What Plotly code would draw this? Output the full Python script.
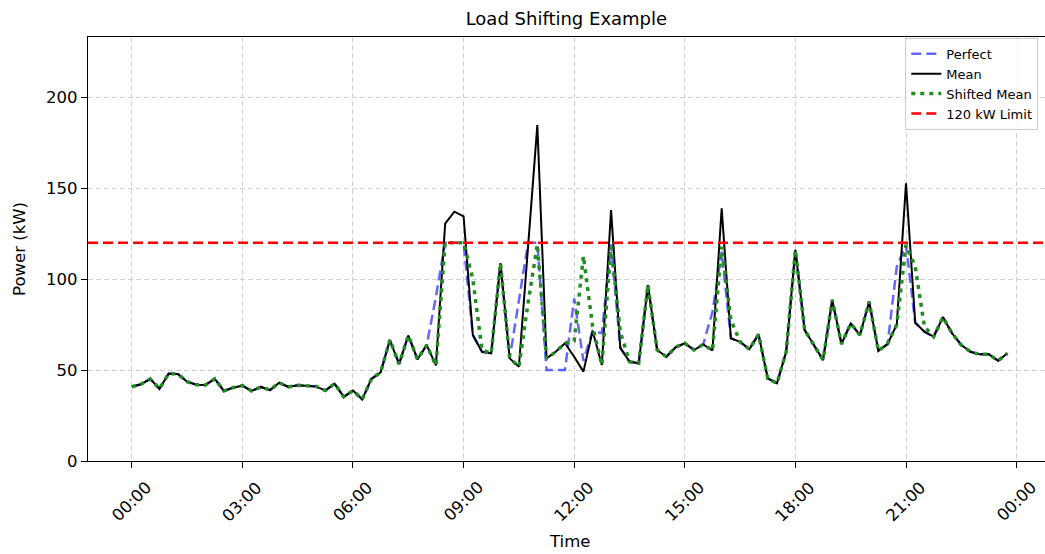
import pandas as pd
import plotly.graph_objects as go

# ---- data -------------------------------------------------------------
times = pd.date_range("2024-01-01 00:00", periods=96, freq="15min")

mean_kw = [
    40.8, 42.2, 45.1, 39.7, 48.0, 47.8, 43.6, 41.9, 41.8, 45.2, 38.5, 40.3,
    41.4, 38.5, 40.7, 39.0, 43.0, 40.7, 41.6, 41.4, 41.0, 38.7, 42.5, 35.3,
    38.7, 33.9, 45.1, 48.7, 66.5, 53.3, 69.0, 55.9, 63.7, 52.5, 130.4, 137.0,
    134.4, 69.2, 60.0, 59.2, 108.8, 56.4, 51.8, 118.2, 184.6, 56.4, 60.0, 64.7,
    57.3, 49.1, 71.5, 52.7, 137.9, 62.2, 54.6, 53.7, 96.7, 61.0, 57.3, 62.5,
    64.7, 61.0, 64.1, 60.7, 138.8, 67.4, 65.5, 61.4, 69.6, 45.4, 42.7, 60.0,
    116.0, 72.0, 63.7, 55.5, 88.5, 64.3, 75.6, 69.2, 87.5, 60.6, 64.3, 75.0,
    152.6, 76.0, 71.0, 68.3, 79.0, 70.2, 63.7, 60.0, 58.6, 58.6, 55.1, 59.2,
]

perfect_kw = [
    40.8, 42.2, 45.1, 39.7, 48.0, 47.8, 43.6, 41.9, 41.8, 45.2, 38.5, 40.3,
    41.4, 38.5, 40.7, 39.0, 43.0, 40.7, 41.6, 41.4, 41.0, 38.7, 42.5, 35.3,
    38.7, 33.9, 45.1, 48.7, 66.5, 53.3, 69.0, 55.9, 63.7, 90.3, 120.0, 120.0,
    120.0, 69.2, 60.0, 59.2, 108.8, 56.4, 88.5, 120.0, 120.0, 50.0, 50.0, 50.0,
    89.4, 55.0, 71.6, 70.2, 119.0, 62.2, 54.6, 53.7, 96.7, 61.0, 57.3, 62.5,
    64.7, 61.0, 64.1, 82.0, 115.0, 67.4, 65.5, 61.4, 69.6, 45.4, 42.7, 60.0,
    116.0, 72.0, 63.7, 55.5, 88.5, 64.3, 75.6, 69.2, 87.5, 60.6, 64.3, 106.8,
    118.7, 76.0, 71.0, 68.3, 79.0, 70.2, 63.7, 60.0, 58.6, 58.6, 55.1, 59.2,
]

shifted_kw = [
    40.8, 42.2, 45.1, 39.7, 48.0, 47.8, 43.6, 41.9, 41.8, 45.2, 38.5, 40.3,
    41.4, 38.5, 40.7, 39.0, 43.0, 40.7, 41.6, 41.4, 41.0, 38.7, 42.5, 35.3,
    38.7, 33.9, 45.1, 48.7, 66.5, 53.3, 69.0, 55.9, 63.7, 52.5, 120.0, 120.0,
    120.0, 100.0, 61.0, 59.2, 108.8, 56.4, 51.8, 87.0, 119.0, 56.4, 60.0, 64.7,
    66.0, 112.6, 74.0, 52.7, 118.0, 71.0, 54.6, 53.7, 96.7, 61.0, 57.3, 62.5,
    64.7, 61.0, 64.1, 60.7, 117.8, 77.5, 65.5, 61.4, 69.6, 45.4, 42.7, 60.0,
    116.0, 72.0, 63.7, 55.5, 88.5, 64.3, 75.6, 69.2, 87.5, 60.6, 64.3, 75.0,
    118.7, 106.8, 73.8, 68.3, 79.0, 70.2, 63.7, 60.0, 58.6, 58.6, 55.1, 59.2,
]

limit_kw = 120
tick_times = pd.date_range("2024-01-01 00:00", periods=9, freq="3h")
tick_labels = ["00:00", "03:00", "06:00", "09:00", "12:00",
               "15:00", "18:00", "21:00", "00:00"]
y_ticks = [0, 50, 100, 150, 200]

FONT = "DejaVu Sans"
step = pd.Timedelta(minutes=15)
x_lo = times[0] - 4.75 * step
x_hi = times[0] + 99.08 * step

fig = go.Figure()
fig.add_trace(go.Scatter(
    x=times, y=perfect_kw, mode="lines", name="Perfect",
    line=dict(color="rgba(0,0,255,0.6)", width=2.5, dash="10px,5px")))
fig.add_trace(go.Scatter(
    x=times, y=mean_kw, mode="lines", name="Mean",
    line=dict(color="black", width=2)))
fig.add_trace(go.Scatter(
    x=times, y=shifted_kw, mode="lines", name="Shifted Mean",
    line=dict(color="rgb(34,139,34)", width=3.5, dash="4px,5px")))
fig.add_trace(go.Scatter(
    x=[x_lo, x_hi], y=[limit_kw, limit_kw], mode="lines", name="120 kW Limit",
    line=dict(color="red", width=2.5, dash="10px,5px")))

annotations = []
for t, lab in zip(tick_times, tick_labels):
    annotations.append(dict(
        x=t, y=0, xref="x", yref="paper", text=lab, showarrow=False,
        textangle=-45, xanchor="center", yanchor="top", yshift=-14,
        font=dict(family=FONT, size=16.5, color="black")))
annotations.append(dict(
    x=0.503, y=-0.191, xref="paper", yref="paper", text="Time",
    showarrow=False, xanchor="center", yanchor="middle",
    font=dict(family=FONT, size=16.5, color="black")))

fig.update_layout(
    width=1045, height=554,
    margin=dict(l=88, r=0, t=37, b=93),
    paper_bgcolor="white", plot_bgcolor="white",
    font=dict(family=FONT, size=16, color="black"),
    title=dict(text="Load Shifting Example", x=0.542, xanchor="center",
               y=0.967, yanchor="middle",
               font=dict(family=FONT, size=18, color="black")),
    showlegend=True,
    legend=dict(x=0.993, y=0.998, xanchor="right", yanchor="top",
                bgcolor="rgba(255,255,255,0.85)", bordercolor="#cccccc",
                borderwidth=1, font=dict(family=FONT, size=13, color="black"),
                tracegroupgap=0),
    annotations=annotations,
)

fig.update_xaxes(
    type="date", range=[x_lo, x_hi],
    tickvals=list(tick_times), showticklabels=False,
    ticks="outside", ticklen=6, tickwidth=1.3, tickcolor="black",
    showline=True, linecolor="black", linewidth=1.3, mirror=True,
    showgrid=True, gridcolor="#d0d0d0", griddash="5px,3px", gridwidth=1,
    zeroline=False,
)
fig.update_yaxes(
    range=[0, 233], tickvals=y_ticks,
    ticks="outside", ticklen=6, tickwidth=1.3, tickcolor="black",
    showline=True, linecolor="black", linewidth=1.3, mirror=False,
    showgrid=True, gridcolor="#d0d0d0", griddash="5px,3px", gridwidth=1,
    zeroline=False,
    tickfont=dict(family=FONT, size=16.5),
    title=dict(text="Power (kW)", standoff=16, font=dict(family=FONT, size=16.5)),
)

fig.write_html("out.html")
